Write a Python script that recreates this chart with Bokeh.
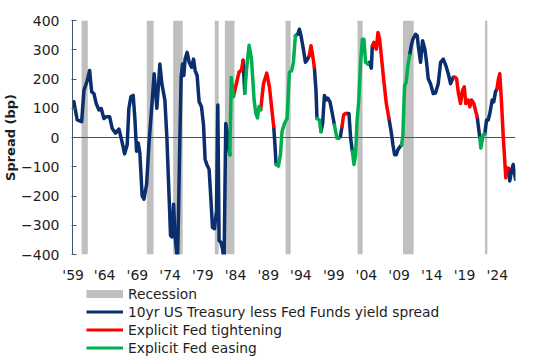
from bokeh.plotting import figure
from bokeh.layouts import column
from bokeh.models import FixedTicker, Legend, LegendItem
from bokeh.embed import file_html
from bokeh.resources import INLINE

# ---- data ----
years = [1959.11, 1959.60, 1960.26, 1960.60, 1961.09, 1961.44, 1961.74, 1962.08, 1962.42, 1962.82,
         1963.16, 1963.56, 1963.90, 1964.40, 1964.79, 1965.29, 1965.78, 1966.18, 1966.63, 1967.01,
         1967.26, 1967.56, 1967.90, 1968.15, 1968.40, 1968.64, 1968.89, 1969.23, 1969.49, 1969.89,
         1970.23, 1970.63, 1971.01, 1971.41, 1971.86, 1972.15, 1972.60, 1972.89, 1973.23, 1973.44,
         1973.63, 1973.89, 1974.12, 1974.48, 1974.63, 1974.82, 1975.01, 1975.22, 1975.41, 1975.60,
         1975.90, 1976.20, 1976.55, 1976.85, 1977.09, 1977.38, 1977.68, 1978.03, 1978.33, 1978.57,
         1978.82, 1979.16, 1979.41, 1979.66, 1979.96, 1980.26, 1980.45, 1980.64, 1980.89, 1981.14,
         1981.38, 1981.63, 1981.83, 1982.03, 1982.23, 1982.45, 1982.77, 1983.11, 1983.60, 1983.96,
         1984.20, 1984.45, 1984.74, 1985.09, 1985.44, 1985.83, 1986.08, 1986.33, 1986.57, 1986.82,
         1987.22, 1987.71, 1988.11, 1988.45, 1988.74, 1988.94, 1989.09, 1989.44, 1989.74, 1989.97,
         1990.33, 1990.72, 1991.07, 1991.41, 1991.66, 1991.96, 1992.30, 1992.55, 1992.79, 1993.14,
         1993.44, 1993.78, 1994.03, 1994.27, 1994.52, 1994.77, 1995.01, 1995.16, 1995.52, 1995.75,
         1996.00, 1996.26, 1996.49, 1996.74, 1997.09, 1997.38, 1997.74, 1998.12, 1998.37, 1998.63,
         1998.86, 1999.11, 1999.41, 1999.90, 2000.15, 2000.40, 2000.64, 2000.89, 2001.09, 2001.34,
         2001.63, 2001.89, 2002.12, 2002.37, 2002.67, 2002.92, 2003.22, 2003.37, 2003.60, 2003.96,
         2004.20, 2004.45, 2004.70, 2005.04, 2005.44, 2005.83, 2006.08, 2006.23, 2006.42, 2006.67,
         2006.92, 2007.16, 2007.52, 2007.71, 2007.90, 2008.15, 2008.40, 2008.64, 2008.89, 2009.14,
         2009.38, 2009.78, 2010.03, 2010.18, 2010.52, 2010.82, 2011.16, 2011.41, 2011.66, 2012.00,
         2012.40, 2012.74, 2013.14, 2013.49, 2013.89, 2014.27, 2014.63, 2014.97, 2015.37, 2015.60,
         2015.86, 2016.11, 2016.45, 2016.74, 2017.00, 2017.23, 2017.59, 2017.83, 2018.08, 2018.42,
         2018.72, 2018.92, 2019.07, 2019.31, 2019.46, 2019.81, 2020.05, 2020.30, 2020.55, 2020.79,
         2021.14, 2021.38, 2021.63, 2021.86, 2022.03, 2022.27, 2022.52, 2022.77, 2023.01, 2023.16,
         2023.41, 2023.60, 2023.75, 2024.00, 2024.26, 2024.60]

spread = [122, 60, 54, 161, 195, 229, 156, 150, 116, 94,
          99, 65, 71, 71, 31, 15, 29, -8, -56, -25,
          99, 139, 144, 65, -47, -19, -53, -200, -211, -160,
          -25, 99, 218, 100, 251, 184, 128, 3, -205, -335,
          -340, -228, -341, -420, -250, -2, 206, 251, 212, 268,
          291, 257, 240, 268, 229, 212, 122, 105, 43, -75,
          -92, -109, -205, -307, -312, -250, 111, -352, -358, -380,
          -420, 48, 20, -30, -59, 205, 140, 174, 224, 230,
          264, 151, 241, 315, 270, 129, 84, 67, 106, 95,
          184, 220, 173, 99, 37, -30, -92, -98, -59, 20,
          48, 65, 223, 229, 257, 348, 353, 370, 348, 302,
          257, 268, 280, 314, 280, 240, 161, 65, 60, 20,
          48, 144, 128, 135, 122, 88, 43, -2, -2, 3,
          37, 77, 82, 82, -2, -47, -92, -59, 54, 122,
          257, 336, 336, 257, 252, 257, 237, 314, 325, 302,
          359, 336, 280, 201, 116, 65, 31, 9, -25, -59,
          -59, -42, -30, -25, 9, 178, 190, 246, 280, 314,
          336, 353, 348, 314, 257, 331, 302, 257, 201, 184,
          150, 152, 184, 257, 268, 246, 218, 184, 206, 206,
          201, 156, 116, 161, 173, 116, 128, 105, 128, 116,
          88, 71, 43, -2, -36, 9, 12, 60, 60, 82,
          128, 122, 156, 167, 195, 218, 122, 9, -81, -138,
          -104, -106, -149, -115, -92, -143]

# policy regime of the segment ending at each point: b = none, t = tightening, e = easing
regime = list(
    "bbbbbbbbbb" "bbbbbbbbbb" "bbbbbbbbbb" "bbbbbbbbbb" "bbbbbbbbbb"
    "bbbbbbbbbb" "bbbbbbbbbb" "bbbbbeettt" "tbeeeeeeee" "tttttbbeee"
    "eeeeeebbbb" "bbbtttbbee" "bbbbbbbeeb" "bttbbbeeee" "eeeeebbbtt"
    "ttttttbbbb" "bbbbeeeeeb" "bbbbbbbbbb" "bbbbbbbbbb" "tttttttttt"
    "ttbbeeebbb" "bbbbtttttt" "ttbbbb"
)

rec_start = [1960.25, 1969.92, 1973.83, 1980.00, 1981.50, 1990.50, 2001.17, 2007.92, 2020.08]
rec_end = [1961.17, 1970.92, 1975.25, 1980.58, 1982.92, 1991.25, 2001.92, 2009.50, 2020.42]

y_ticks = [-400, -300, -200, -100, 0, 100, 200, 300, 400]
tick_years = [1959.00, 1963.67, 1968.52, 1973.38, 1978.23, 1983.08, 1987.93,
              1992.78, 1997.64, 2002.49, 2007.34, 2012.19, 2017.04, 2021.90]
tick_labels = ["'59", "'64", "'69", "'74", "'79", "'84", "'89",
               "'94", "'99", "'04", "'09", "'14", "'19", "'24"]
legend_labels = ["Recession", "10yr US Treasury less Fed Funds yield spread",
                 "Explicit Fed tightening", "Explicit Fed easing"]

NAVY = "#0a2e6e"
RED = "#ff0000"
GREEN = "#00b050"
GREY = "#bfbfbf"
AXIS = "#44546a"
TEXT = "#1e1e1e"
FONT = "DejaVu Sans"

p = figure(width=540, height=285, x_range=(1958.9, 2024.6), y_range=(-400, 400),
           output_backend="svg", toolbar_location=None,
           min_border_left=72, min_border_right=25, min_border_top=20, min_border_bottom=29)
p.outline_line_color = None
p.xgrid.visible = False
p.ygrid.visible = False

p.quad(left=rec_start, right=rec_end, bottom=y_ticks[0], top=y_ticks[-1],
       fill_color=GREY, line_color=None)
p.hspan(y=[0], line_color=AXIS, line_width=1)

# split series into coloured runs
runs = {"b": ([], []), "t": ([], []), "e": ([], [])}
cur = None
for i in range(1, len(years)):
    c = regime[i]
    if c != cur:
        runs[c][0].append([years[i - 1]])
        runs[c][1].append([spread[i - 1]])
        cur = c
    runs[c][0][-1].append(years[i])
    runs[c][1][-1].append(spread[i])

kw = dict(line_width=3.5, line_cap="round", line_join="round")
p.multi_line(runs["b"][0], runs["b"][1], line_color=NAVY, **kw)
p.multi_line(runs["t"][0], runs["t"][1], line_color=RED, **kw)
p.multi_line(runs["e"][0], runs["e"][1], line_color=GREEN, **kw)

# axes
p.yaxis.ticker = FixedTicker(ticks=y_ticks)
p.yaxis.axis_line_color = AXIS
p.yaxis.major_tick_line_color = AXIS
p.yaxis.major_tick_in = 4
p.yaxis.major_tick_out = 1
p.yaxis.minor_tick_line_color = None
p.yaxis.minor_tick_out = 0
p.yaxis.major_label_standoff = 12
p.yaxis.major_label_text_font = FONT
p.yaxis.major_label_text_font_size = "14px"
p.yaxis.major_label_text_color = TEXT
p.yaxis.axis_label = "Spread (bp)"
p.yaxis.axis_label_text_font = FONT
p.yaxis.axis_label_text_font_style = "bold"
p.yaxis.axis_label_text_font_size = "13px"
p.yaxis.axis_label_text_color = TEXT
p.yaxis.axis_label_standoff = 0

p.xaxis.ticker = FixedTicker(ticks=tick_years)
p.xaxis.major_label_overrides = dict(zip(tick_years, tick_labels))
p.xaxis.axis_line_color = None
p.xaxis.major_tick_line_color = None
p.xaxis.minor_tick_line_color = None
p.xaxis.major_tick_out = 0
p.xaxis.minor_tick_out = 0
p.xaxis.major_label_standoff = 12
p.xaxis.major_label_text_font = FONT
p.xaxis.major_label_text_font_size = "14px"
p.xaxis.major_label_text_color = TEXT

# ---- legend strip (swatch renderers hold one point only, so they draw nothing) ----
lf = figure(width=540, height=71, x_range=(0, 1), y_range=(0, 1),
            x_axis_type=None, y_axis_type=None, output_backend="svg",
            toolbar_location=None, min_border=0)
lf.outline_line_color = None
lf.xgrid.visible = False
lf.ygrid.visible = False
sw_rec = lf.line(x=years[:1], y=spread[:1], line_color=GREY, line_width=8)
sw_b = lf.line(x=years[:1], y=spread[:1], line_color=NAVY, line_width=3)
sw_t = lf.line(x=years[:1], y=spread[:1], line_color=RED, line_width=3)
sw_e = lf.line(x=years[:1], y=spread[:1], line_color=GREEN, line_width=3)

legend = Legend(items=[LegendItem(label=lab, renderers=[r]) for lab, r in
                       zip(legend_labels, [sw_rec, sw_b, sw_t, sw_e])],
                location=(14, 0), orientation="vertical", glyph_width=37, glyph_height=17,
                label_height=17, spacing=1, padding=0, margin=0, border_line_color=None,
                background_fill_alpha=0, label_text_font=FONT, label_text_font_size="13.8px",
                label_standoff=5, label_text_color=TEXT)
lf.add_layout(legend, "center")

layout = column(p, lf, spacing=0)
open("out.html", "w").write(file_html(layout, INLINE))
